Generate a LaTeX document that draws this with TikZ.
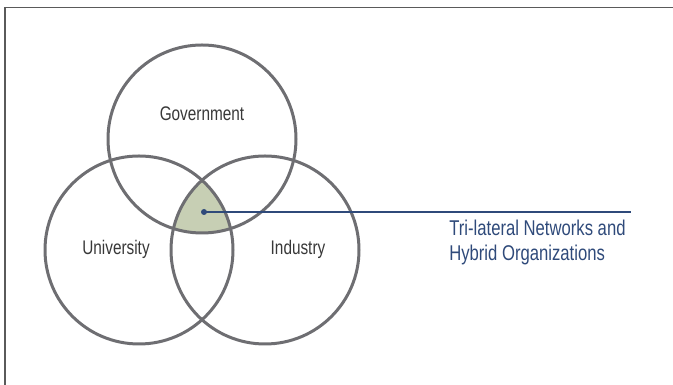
\documentclass[tikz,border=0pt]{standalone}
\usepackage{fontspec}
\setmainfont{Liberation Sans}[FakeStretch=0.78]
\definecolor{ringgray}{HTML}{6E6E72}
\definecolor{framegray}{HTML}{5A5A5A}
\definecolor{labelgray}{HTML}{383838}
\definecolor{sage}{HTML}{C7CFB4}
\definecolor{navy}{HTML}{2F4A7A}
\tikzset{
  sector/.style={circle, draw=ringgray, line width=0.075cm, minimum size=4.7cm, inner sep=0pt},
  sectorlabel/.style={text=labelgray, font=\fontsize{14}{16}\selectfont, inner sep=0pt},
}
\begin{document}
\begin{tikzpicture}
            \useasboundingbox (0.000000,0.000000) rectangle (16.825000,9.625000);
            
            % Drawing frame (top and left edge only)
            \draw [line width=0.04cm, framegray] (0.125000,0.000000) -- (0.125000,9.437500) -- (16.825000,9.437500);%
            
            % Filling common part of the three circles
            \begin{scope}
              \clip (5.050000,6.150000) circle (2.350000);%
              \clip (3.475000,3.375000) circle (2.350000);%
              \fill [sage] (6.625000,3.375000) circle (2.350000);%
            \end{scope}
            
            % Drawing circles gov, uni, ind
            \node (gov) [sector] at (5.050000,6.150000) {};%
            \node (uni) [sector] at (3.475000,3.375000) {};%
            \node (ind) [sector] at (6.625000,3.375000) {};%
            
            % Marking circle names
            \node (govlabel) [sectorlabel] at (5.050000,6.775000) {Government};%
            \node (unilabel) [sectorlabel] at (2.900000,3.400000) {University};%
            \node (indlabel) [sectorlabel] at (7.450000,3.400000) {Industry};%
            
            % Marking point P and leader to the caption
            \node (p) [circle, fill=navy, inner sep=0pt, minimum size=0.150000cm] at (5.100000,4.325000) {};%
            \coordinate (leaderend) at (15.775000,4.325000);%
            \draw [line width=0.035cm, navy] (p.center) -- (leaderend);%
            \node (hybrid) [anchor=base west, align=left, inner sep=0pt, text=navy,
              font=\fontsize{15.2}{17.8}\selectfont] at (11.225000,3.100000)
              {Tri-lateral Networks and\\Hybrid Organizations};%
\end{tikzpicture}
\end{document}
